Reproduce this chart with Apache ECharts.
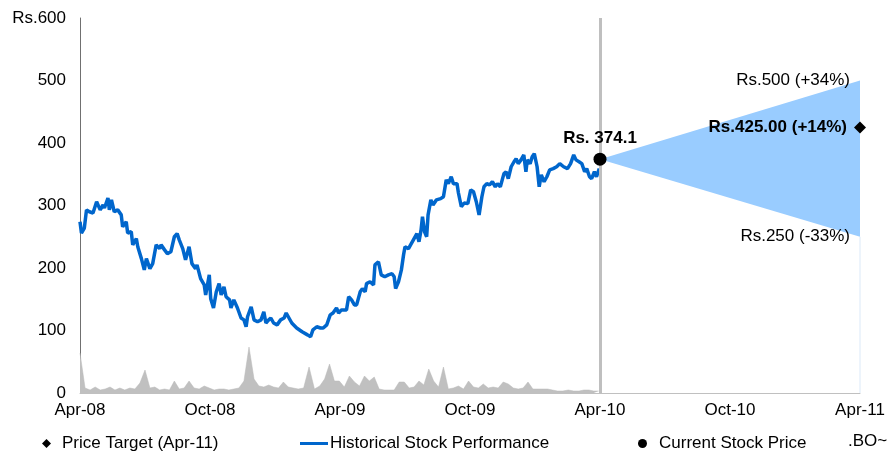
<!DOCTYPE html>
<html style="height: 100%">
<head>
<meta charset="utf-8">
<script type="text/javascript" src="https://cdn.jsdelivr.net/npm/echarts@6/dist/echarts.min.js"></script>
</head>
<body style="height: 100%; margin: 0; background: #fff">
<div id="container" style="width: 891px; height: 454px"></div>
<script type="text/javascript">
// x axis runs in months from Apr-08
var tickLabels = ['Apr-08', 'Oct-08', 'Apr-09', 'Oct-09', 'Apr-10', 'Oct-10', 'Apr-11'];

var priceDates = [
  '2008-04-01','2008-04-03','2008-04-07','2008-04-10','2008-04-14','2008-04-19','2008-04-24','2008-04-29',
  '2008-05-03','2008-05-05','2008-05-10','2008-05-12','2008-05-15','2008-05-19','2008-05-24','2008-05-29','2008-05-31',
  '2008-06-05','2008-06-07','2008-06-12','2008-06-14','2008-06-19','2008-06-21','2008-06-26','2008-06-30',
  '2008-07-03','2008-07-08','2008-07-12','2008-07-17','2008-07-22','2008-07-24','2008-07-29',
  '2008-08-02','2008-08-07','2008-08-12','2008-08-16','2008-08-19','2008-08-24','2008-08-28',
  '2008-09-02','2008-09-06','2008-09-11','2008-09-13','2008-09-18','2008-09-23','2008-09-25','2008-09-30',
  '2008-10-02','2008-10-06','2008-10-10','2008-10-14','2008-10-17','2008-10-21','2008-10-24','2008-10-29','2008-10-31',
  '2008-11-04','2008-11-09','2008-11-14','2008-11-18','2008-11-21','2008-11-23','2008-11-28',
  '2008-12-02','2008-12-07','2008-12-12','2008-12-16','2008-12-19','2008-12-23','2008-12-26','2008-12-30',
  '2009-01-04','2009-01-09','2009-01-14','2009-01-17','2009-01-21','2009-01-25',
  '2009-02-01','2009-02-08','2009-02-15','2009-02-19','2009-02-22','2009-02-27',
  '2009-03-04','2009-03-08','2009-03-13','2009-03-18','2009-03-22','2009-03-27','2009-03-30',
  '2009-04-03','2009-04-05','2009-04-10','2009-04-13','2009-04-17','2009-04-21','2009-04-24','2009-04-29',
  '2009-05-02','2009-05-06','2009-05-08','2009-05-13','2009-05-18','2009-05-20','2009-05-25','2009-05-29',
  '2009-06-03','2009-06-08','2009-06-13','2009-06-16','2009-06-18','2009-06-22','2009-06-26','2009-06-29',
  '2009-07-01','2009-07-06','2009-07-10','2009-07-14','2009-07-18','2009-07-21','2009-07-24','2009-07-26','2009-07-29',
  '2009-08-01','2009-08-03','2009-08-07','2009-08-10','2009-08-15','2009-08-21','2009-08-25','2009-08-29',
  '2009-09-01','2009-09-05','2009-09-08','2009-09-13','2009-09-15','2009-09-19','2009-09-23','2009-09-28',
  '2009-10-02','2009-10-06','2009-10-10','2009-10-12','2009-10-14','2009-10-18','2009-10-21','2009-10-25','2009-10-29',
  '2009-11-02','2009-11-06','2009-11-09','2009-11-13','2009-11-18','2009-11-21','2009-11-24','2009-11-28',
  '2009-12-02','2009-12-05','2009-12-08','2009-12-12','2009-12-16','2009-12-19','2009-12-21','2009-12-25','2009-12-28','2009-12-31',
  '2010-01-04','2010-01-07','2010-01-10','2010-01-14','2010-01-18','2010-01-22','2010-01-27',
  '2010-02-01','2010-02-05','2010-02-10','2010-02-15','2010-02-19','2010-02-23','2010-02-26',
  '2010-03-02','2010-03-06','2010-03-10','2010-03-13','2010-03-17','2010-03-20','2010-03-24','2010-03-27','2010-03-31'
];
var priceValues = [
  274,256,264,293,290,288,306,293,
  301,296,312,293,309,290,293,285,266,
  274,256,258,237,247,234,215,197,
  215,199,207,237,231,237,229,
  223,226,250,255,245,231,213,
  234,207,199,205,183,173,157,189,
  151,136,162,175,157,170,154,149,136,
  149,136,120,117,106,122,138,
  117,114,117,130,112,117,120,112,
  109,117,120,128,120,112,
  104,98,93,90,101,106,
  104,104,109,125,128,136,128,
  133,130,133,154,149,141,141,162,
  167,162,175,178,173,205,210,189,
  186,189,191,186,167,178,197,221,
  234,231,239,247,255,242,261,282,258,
  250,285,309,301,309,311,314,341,
  335,346,335,335,320,298,304,303,
  325,322,306,309,285,314,330,335,333,
  338,330,335,330,351,354,343,362,
  370,375,367,373,381,354,373,367,378,383,
  362,330,349,338,346,357,359,
  362,367,362,359,367,381,373,
  370,367,354,359,346,343,354,346,359
];

// weekly traded volume ('000 shares), first week starting volumeStart
var volumeStart = '2008-04-01';
var volumeWeekly = [
  800,100,60,120,60,80,120,60,100,60,100,80,200,460,100,120,60,80,60,240,
  80,100,240,100,80,140,100,60,80,80,60,80,100,240,920,280,140,120,160,120,
  100,220,120,100,80,100,520,80,140,280,580,240,240,120,340,220,140,340,240,320,
  80,60,60,60,220,220,100,120,240,160,480,240,120,520,80,100,140,80,240,120,
  100,180,100,120,100,220,180,100,80,100,220,80,80,80,80,60,40,40,60,40,
  40,60,60,40,40
];

var currentDate = '2010-04-01';
var currentPrice = 374.1;
var targetDate = '2011-04-01';
var targetPrice = 425;
var targetHigh = 500;
var targetLow = 250;

function monthsFromStart(s) {
  var p = s.split('-'), y = +p[0], m = +p[1], d = +p[2];
  var dim = new Date(Date.UTC(y, m, 0)).getUTCDate();
  return (y - 2008) * 12 + (m - 4) + (d - 1) / dim;
}
function addDays(s, n) {
  var t = new Date(s + 'T00:00:00Z');
  t.setUTCDate(t.getUTCDate() + n);
  return t.toISOString().slice(0, 10);
}

var priceData = priceDates.map(function (d, i) { return [monthsFromStart(d), priceValues[i]]; });
var volumeData = volumeWeekly.map(function (v, i) { return [monthsFromStart(addDays(volumeStart, i * 7)), v]; });
var xNow = monthsFromStart(currentDate);
var xTarget = monthsFromStart(targetDate);

var font = "'Liberation Sans', Arial, sans-serif";
var fs = 17;

var dom = document.getElementById('container');
var myChart = echarts.init(dom, null, { renderer: 'canvas' });

var option = {
  backgroundColor: '#fff',
  animation: false,
  textStyle: { fontFamily: font },
  grid: { left: 80, right: 31, top: 18, bottom: 61, containLabel: false },
  legend: [
    {
      data: [{ name: 'Price Target (Apr-11)', icon: 'diamond' }],
      left: 37, top: 430, itemWidth: 9, itemHeight: 9,
      textStyle: { fontSize: fs, color: '#000', fontFamily: font, padding: [0, 0, 0, 6] }
    },
    {
      data: [{ name: 'Historical Stock Performance', icon: 'rect' }],
      left: 295, top: 430, itemWidth: 28, itemHeight: 3,
      textStyle: { fontSize: fs, color: '#000', fontFamily: font, padding: [0, 0, 0, -3] }
    },
    {
      data: [{ name: 'Current Stock Price', icon: 'circle' }],
      left: 633, top: 430, itemWidth: 9, itemHeight: 9,
      textStyle: { fontSize: fs, color: '#000', fontFamily: font, padding: [0, 0, 0, 7] }
    }
  ],
  graphic: [{
    type: 'text', left: 848, top: 433,
    style: { text: '.BO~', font: fs + 'px ' + font, fill: '#000' }
  }],
  xAxis: {
    type: 'value', min: 0, max: 36, interval: 6,
    axisLine: { lineStyle: { color: '#c0c0c0', width: 1 } },
    axisTick: { show: false },
    splitLine: { show: false },
    axisLabel: {
      fontSize: fs, color: '#000', fontFamily: font, margin: 9,
      formatter: function (v) { return tickLabels[v / 6]; }
    }
  },
  yAxis: [
    {
      type: 'value', min: 0, max: 600, interval: 100,
      axisLine: { show: true, lineStyle: { color: '#707070', width: 1 } },
      axisTick: { show: false },
      splitLine: { show: false },
      axisLabel: {
        fontSize: fs, color: '#000', fontFamily: font, margin: 14,
        formatter: function (v) { return v === 600 ? 'Rs.600' : v; }
      }
    },
    { type: 'value', min: 0, max: 7500, show: false }
  ],
  series: [
    {
      name: 'Volume', type: 'line', yAxisIndex: 1, data: volumeData,
      symbol: 'none', silent: true, z: 1,
      lineStyle: { color: '#b8b8b8', width: 0.5 },
      areaStyle: { color: '#c0c0c0', opacity: 1 },
      markLine: {
        silent: true, symbol: 'none', label: { show: false },
        lineStyle: { color: '#bfbfbf', width: 3, type: 'solid' },
        data: [{ xAxis: xNow }]
      }
    },
    {
      name: 'Target Range', type: 'custom', silent: true, z: 2,
      data: [[xNow, currentPrice, xTarget, targetHigh, targetLow]],
      renderItem: function (params, api) {
        var a = api.coord([api.value(0), api.value(1)]);
        var b = api.coord([api.value(2), api.value(3)]);
        var c = api.coord([api.value(2), api.value(4)]);
        return { type: 'polygon', shape: { points: [a, b, c] }, style: { fill: '#99ccff' } };
      }
    },
    {
      name: 'Range Edge', type: 'line', silent: true, symbol: 'none', z: 2,
      data: [[xTarget, 0], [xTarget, targetLow]],
      lineStyle: { color: '#dbe9f8', width: 1 }
    },
    {
      name: 'Historical Stock Performance', type: 'line', data: priceData,
      showSymbol: false, symbol: 'none', z: 3,
      lineStyle: { color: '#0066cc', width: 3.5 },
      itemStyle: { color: '#0066cc' }
    },
    {
      name: 'Range Labels', type: 'scatter', silent: true, symbolSize: 0, z: 4,
      data: [[xTarget, targetHigh, 'Rs.500 (+34%)'], [xTarget, targetLow, 'Rs.250 (-33%)']],
      itemStyle: { opacity: 1 },
      label: {
        show: true, position: 'left', distance: 10,
        fontSize: fs, color: '#000', fontFamily: font,
        formatter: function (p) { return p.data[2]; }
      }
    },
    {
      name: 'Price Target (Apr-11)', type: 'scatter', symbol: 'diamond', symbolSize: 12, z: 5,
      data: [[xTarget, targetPrice]],
      itemStyle: { color: '#000', opacity: 1 },
      label: {
        show: true, position: 'left', distance: 7,
        fontSize: fs, fontWeight: 'bold', color: '#000', fontFamily: font,
        formatter: function (p) {
          var pct = Math.round((p.data[1] / currentPrice - 1) * 100);
          return 'Rs.' + p.data[1].toFixed(2) + ' (+' + pct + '%)';
        }
      }
    },
    {
      name: 'Current Stock Price', type: 'scatter', symbol: 'circle', symbolSize: 13, z: 5,
      data: [[xNow, currentPrice]],
      itemStyle: { color: '#000', opacity: 1 },
      label: {
        show: true, position: 'top', distance: 6,
        fontSize: fs, fontWeight: 'bold', color: '#000', fontFamily: font,
        formatter: function (p) { return 'Rs. ' + p.data[1]; }
      }
    }
  ]
};

myChart.setOption(option);
</script>
</body>
</html>
